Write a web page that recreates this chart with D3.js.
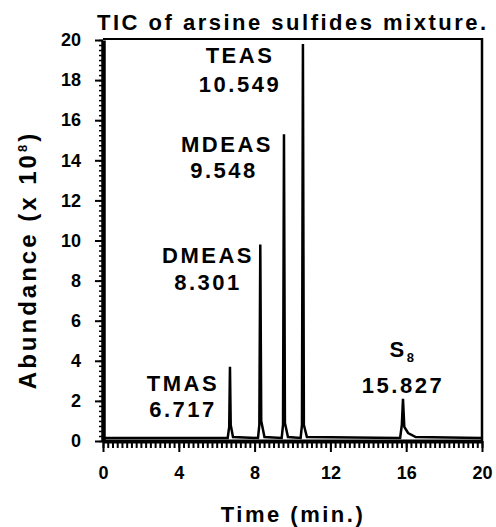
<!DOCTYPE html>
<meta charset="utf-8">
<style>
    body{ margin:0; background:#fff; }
    svg text{ font-family:"Liberation Sans", Arial, sans-serif; font-weight:bold; fill:#000; }
    .axis path, .axis line{ stroke:#000; }
    .lbl{ font-size:22px; letter-spacing:2.5px; }
    .tick text{ font-size:18px; }
</style>
<body>
<svg id="chart" width="496" height="527"></svg>
</body>
<script src="https://d3js.org/d3.v7.min.js"></script>
<script>
// TIC trace (time in min, abundance x 10^8)
var times     = [0, 6.58, 6.66, 6.70, 6.74, 6.86, 8.18, 8.25, 8.30, 8.35, 8.52, 9.43, 9.50, 9.55, 9.60, 9.76, 10.43, 10.50, 10.55, 10.60, 10.76, 15.68, 15.77, 15.83, 15.90, 16.10, 16.50, 20];
var abundance = [0.15, 0.15, 0.7, 3.7, 0.8, 0.2, 0.15, 0.8, 9.8, 1.0, 0.2, 0.15, 0.8, 15.3, 0.9, 0.2, 0.15, 0.8, 19.8, 0.8, 0.2, 0.15, 0.8, 2.1, 0.7, 0.4, 0.2, 0.15];

var peakNames = ["TMAS", "DMEAS", "MDEAS", "TEAS", "S"];
var peakTimes = ["6.717", "8.301", "9.548", "10.549", "15.827"];

var xTicks = [0, 4, 8, 12, 16, 20];
var yTicks = [0, 2, 4, 6, 8, 10, 12, 14, 16, 18, 20];

var svg = d3.select("#chart");
var pLeft = 103, pRight = 482, pTop = 40, pBottom = 441;

var x = d3.scaleLinear().domain([0, 20]).range([pLeft, pRight]);
var y = d3.scaleLinear().domain([0, 20]).range([pBottom, pTop]);

// frame (top + right)
svg.append("line").attr("x1", pLeft).attr("x2", pRight).attr("y1", pTop - 1).attr("y2", pTop - 1)
    .attr("stroke", "#000").attr("stroke-width", 2);
svg.append("line").attr("x1", pRight).attr("x2", pRight).attr("y1", pTop - 2).attr("y2", pBottom)
    .attr("stroke", "#000").attr("stroke-width", 2.5);

// minor ticks
svg.append("g").attr("class", "axis")
    .attr("transform", "translate(0," + pBottom + ")")
    .call(d3.axisBottom(x).tickValues(d3.range(0, 20.01, 0.25)).tickSize(7).tickFormat(""))
    .call(function(g){ g.select(".domain").remove(); g.selectAll("line").attr("stroke-width", 2); });
svg.append("g").attr("class", "axis")
    .attr("transform", "translate(" + pLeft + ",0)")
    .call(d3.axisLeft(y).tickValues(d3.range(0, 20.01, 0.25)).tickSize(4).tickFormat(""))
    .call(function(g){ g.select(".domain").remove(); g.selectAll("line").attr("stroke-width", 1.5); });

// major axes
svg.append("g").attr("class", "axis")
    .attr("transform", "translate(0," + pBottom + ")")
    .call(d3.axisBottom(x).tickValues(xTicks).tickSize(11).tickSizeOuter(0).tickPadding(14))
    .call(function(g){
        g.select(".domain").attr("stroke-width", 4);
        g.selectAll("line").attr("stroke-width", 2);
    });
svg.append("g").attr("class", "axis")
    .attr("transform", "translate(" + pLeft + ",0)")
    .call(d3.axisLeft(y).tickValues(yTicks).tickSize(8).tickSizeOuter(0).tickPadding(14))
    .call(function(g){
        g.select(".domain").attr("stroke-width", 4.5);
        g.selectAll("line").attr("stroke-width", 2);
    });

// trace
var pts = times.map(function(t, i){ return [t, abundance[i]]; });
svg.append("path")
    .datum(pts)
    .attr("fill", "none")
    .attr("stroke", "#000")
    .attr("stroke-width", 2.5)
    .attr("stroke-linejoin", "miter")
    .attr("d", d3.line().x(function(d){ return x(d[0]); }).y(function(d){ return y(d[1]); }));

// peak labels
var layout = [[183, 391, 183, 417], [208, 263, 208, 290], [227, 152, 224, 178], [240, 63, 240, 92], [403, 357, 403, 393]];
peakNames.forEach(function(n, i){
    var p = layout[i];
    var t = svg.append("text").attr("class", "lbl").attr("text-anchor", "middle")
        .attr("x", p[0]).attr("y", p[1]).text(n);
    if (n == "S") {
        t.append("tspan").attr("font-size", 13).attr("dy", 5).text("8");
    }
    svg.append("text").attr("class", "lbl").attr("text-anchor", "middle")
        .attr("x", p[2]).attr("y", p[3]).text(peakTimes[i]);
});

// titles
svg.append("text").attr("class", "lbl").attr("x", 97).attr("y", 30)
    .text("TIC of arsine sulfides mixture.");
svg.append("text").attr("class", "lbl").attr("text-anchor", "middle")
    .attr("x", 293).attr("y", 522).text("Time  (min.)");
var yl = svg.append("text").attr("class", "lbl").attr("text-anchor", "middle")
    .attr("transform", "translate(36,260) rotate(-90)")
    .style("font-size", "24px").style("letter-spacing", "3px")
    .text("Abundance  (x  10");
yl.append("tspan").attr("font-size", 13).attr("dy", -9).text("8");
yl.append("tspan").attr("dy", 9).text(")");
</script>
